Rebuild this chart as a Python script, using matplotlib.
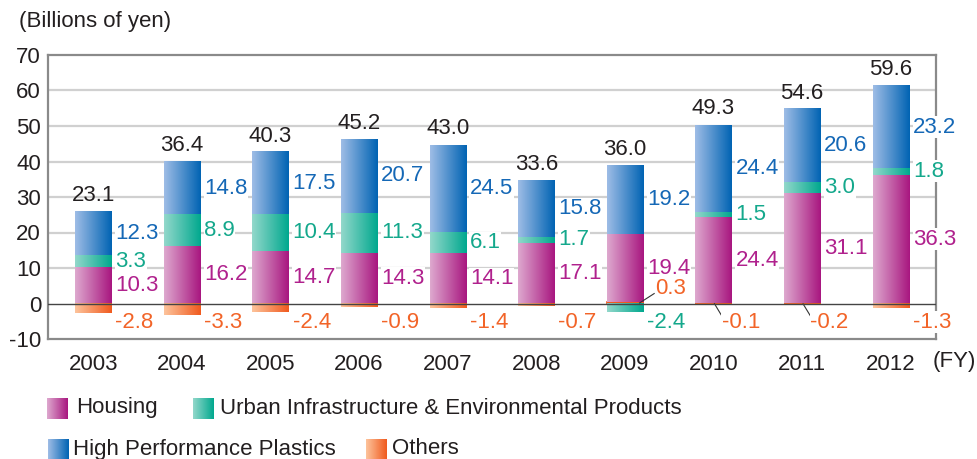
import numpy as np
import matplotlib
matplotlib.use("Agg")
import matplotlib.pyplot as plt
from matplotlib.colors import LinearSegmentedColormap

# -----------------------------
# Data (billions of yen)
# -----------------------------
years = ["2003", "2004", "2005", "2006", "2007", "2008", "2009", "2010", "2011", "2012"]
housing = [10.3, 16.2, 14.7, 14.3, 14.1, 17.1, 19.4, 24.4, 31.1, 36.3]
urban = [3.3, 8.9, 10.4, 11.3, 6.1, 1.7, -2.4, 1.5, 3.0, 1.8]
plastics = [12.3, 14.8, 17.5, 20.7, 24.5, 15.8, 19.2, 24.4, 20.6, 23.2]
others = [-2.8, -3.3, -2.4, -0.9, -1.4, -0.7, 0.3, -0.1, -0.2, -1.3]
totals = [23.1, 36.4, 40.3, 45.2, 43.0, 33.6, 36.0, 49.3, 54.6, 59.6]

# -----------------------------
# Styles
# -----------------------------
plt.rcParams["font.family"] = ["Liberation Sans", "DejaVu Sans"]
plt.rcParams["axes.unicode_minus"] = False

series = {
    "housing": dict(light="#dea9cf", dark="#a8167f", text="#b0218d"),
    "urban": dict(light="#93d8cb", dark="#00a88e", text="#14a88c"),
    "plastics": dict(light="#9fbde6", dark="#0063b3", text="#1568b6"),
    "others": dict(light="#fdc49c", dark="#f05a1e", text="#f26428"),
}
for s in series.values():
    s["cmap"] = LinearSegmentedColormap.from_list("g", [s["light"], s["dark"]])

dark_text = "#231f20"
fs = 16
bar_w = 0.41
grad = np.linspace(0, 1, 256).reshape(1, -1)

fig = plt.figure(figsize=(9.77, 4.59), dpi=100)
ax = fig.add_axes([48 / 977, 120 / 459, 888 / 977, 284 / 459])


def grad_bar(x, bottom, height, key):
    s = series[key]
    ax.imshow(grad, extent=[x - bar_w / 2, x + bar_w / 2, bottom, bottom + height],
              aspect="auto", cmap=s["cmap"], interpolation="bilinear", zorder=3)
    if abs(height) < 0.5:
        ax.bar(x, height, bar_w, bottom=bottom, color=s["dark"],
               edgecolor=s["dark"], linewidth=1.2, zorder=3)


def seg_label(x, y, val, key):
    ax.text(x, y, f"{val:.1f}", color=series[key]["text"], fontsize=fs,
            ha="left", va="center", zorder=5,
            bbox=dict(facecolor="white", edgecolor="none", pad=0.3))


neg_y = -5.3
for i in range(len(years)):
    pos = 0.0
    neg = 0.0
    # positive stack: others (if positive), housing, urban, plastics
    if others[i] > 0:
        grad_bar(i, pos, others[i], "others")
        pos += others[i]
    for key, vals in [("housing", housing), ("urban", urban), ("plastics", plastics)]:
        v = vals[i]
        if v >= 0:
            grad_bar(i, pos, v, key)
            seg_label(i + 0.25, pos + v / 2, v, key)
            pos += v
        else:
            grad_bar(i, neg, v, key)
            seg_label(i + 0.25, neg_y, v, key)
            neg += v
    if others[i] < 0:
        grad_bar(i, neg, others[i], "others")
        neg += others[i]

    # others label, with a leader line when the slice is too thin
    o = others[i]
    if o > 0:
        ax.plot([i + 0.165, i + 0.33], [o / 2, 2.8], color="#333333", lw=0.8, zorder=4)
        seg_label(i + 0.34, 4.3, o, "others")
    elif o > -0.5:
        ax.plot([i + 0.01, i + 0.115], [o / 2, -4.4], color="#333333", lw=0.8, zorder=4)
        seg_label(i + 0.09, neg_y, o, "others")
    else:
        seg_label(i + 0.25, neg_y, o, "others")

    # total on top
    ax.annotate(f"{totals[i]:.1f}", (i, pos), xytext=(0, 4), textcoords="offset points",
                ha="center", va="bottom", fontsize=fs, color=dark_text, zorder=5)

# -----------------------------
# Axes
# -----------------------------
ax.set_xlim(-0.51, 9.51)
ax.set_ylim(-10, 70)
ax.set_yticks(range(-10, 71, 10))
ax.set_xticks(range(len(years)))
ax.set_xticklabels(years)
ax.tick_params(axis="both", length=0, labelsize=fs, colors=dark_text)
ax.tick_params(axis="y", pad=5)
ax.tick_params(axis="x", pad=11)
for yv in range(10, 70, 10):
    ax.axhline(yv, color="#d0d0d0", lw=1.6, zorder=1)
ax.axhline(0, color="#444444", lw=1.0, zorder=4)
for sp in ax.spines.values():
    sp.set_color("#8a8a8a")
    sp.set_linewidth(1.6)

fig.text(19 / 977, 1 - 22 / 459, "(Billions of yen)", fontsize=fs, color=dark_text,
         ha="left", va="center")
fig.text(933 / 977, 1 - 362 / 459, "(FY)", fontsize=fs, color=dark_text,
         ha="left", va="center")

# -----------------------------
# Legend (drawn by hand)
# -----------------------------
legend_items = [
    ("housing", "Housing", 47, 398, 76),
    ("urban", "Urban Infrastructure & Environmental Products", 193, 398, 220),
    ("plastics", "High Performance Plastics", 48, 439, 73),
    ("others", "Others", 366, 439, 392),
]
for key, label, px, py, tx in legend_items:
    pax = fig.add_axes([px / 977, 1 - (py + 21) / 459, 21 / 977, 21 / 459])
    pax.imshow(grad, aspect="auto", cmap=series[key]["cmap"], interpolation="bilinear")
    pax.axis("off")
    fig.text(tx / 977, 1 - (py + 10) / 459, label, fontsize=fs,
             color=dark_text, ha="left", va="center")

fig.savefig("out.png", dpi=100)
